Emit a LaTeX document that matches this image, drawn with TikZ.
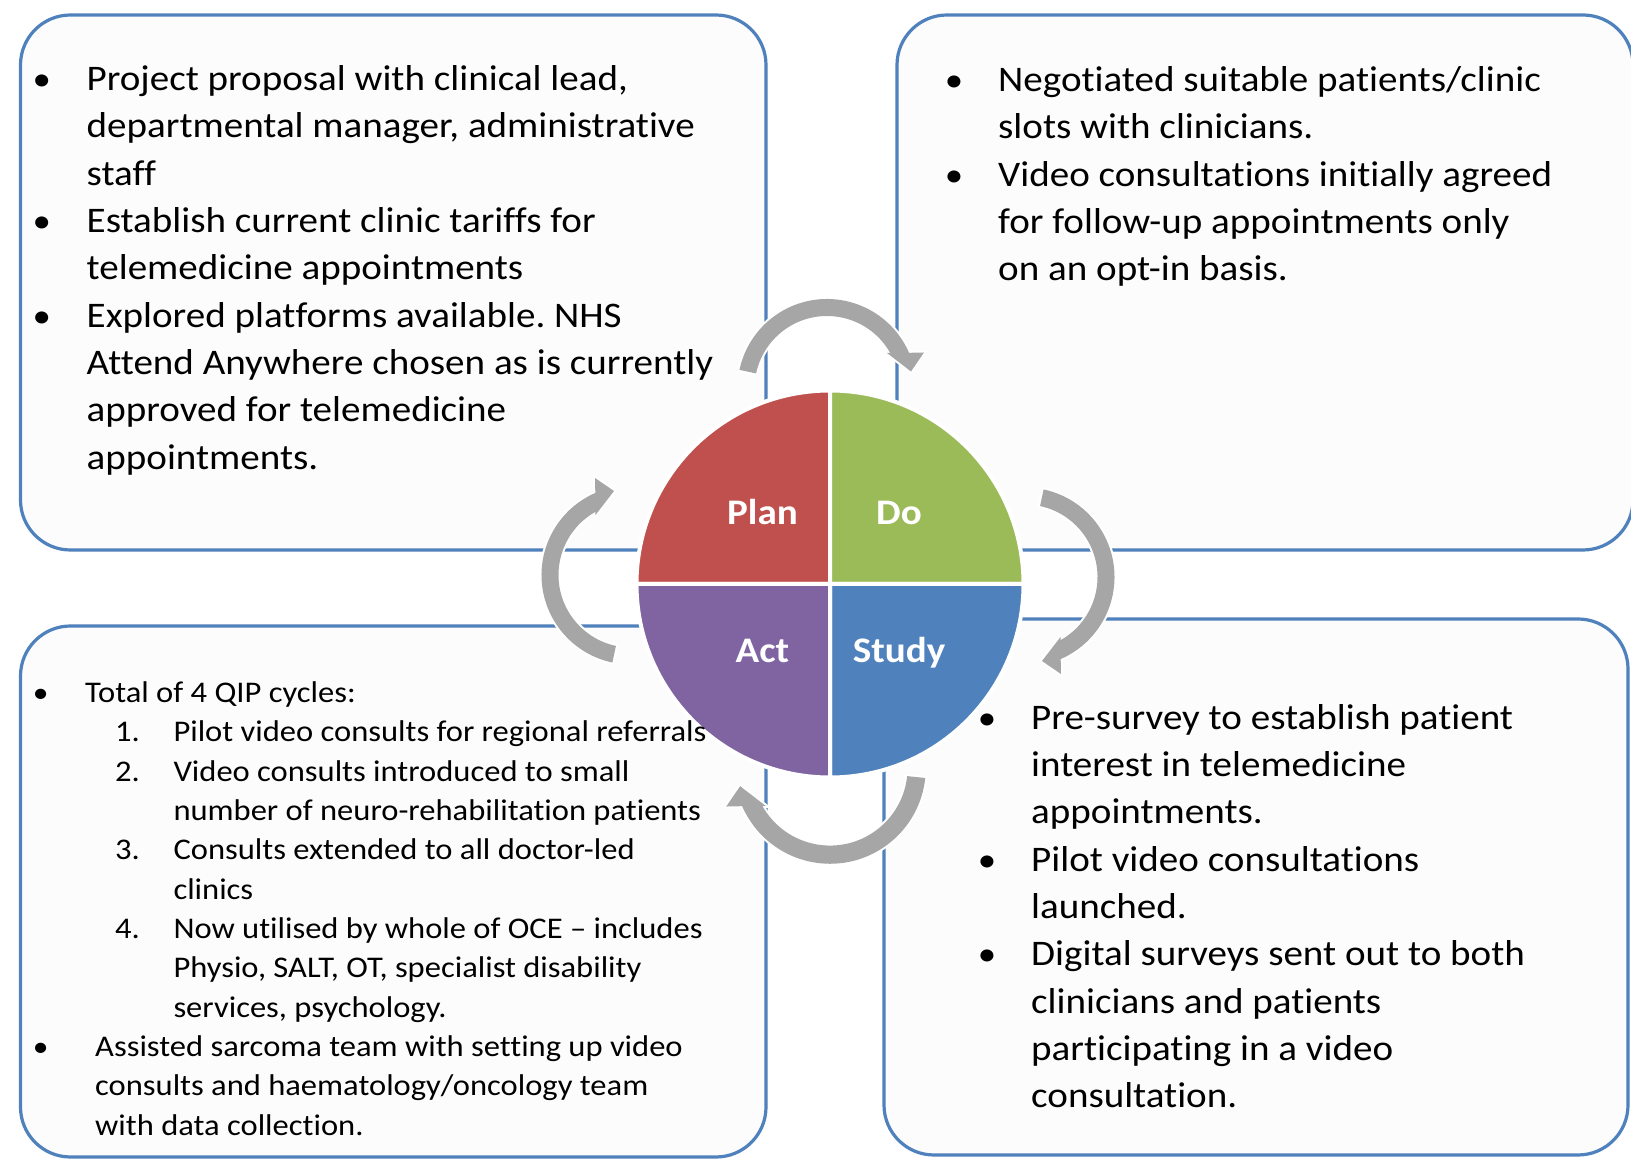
\documentclass[tikz,border=0pt]{standalone}
\usepackage{fontspec}
\setmainfont{Carlito}[FakeStretch=1.085, Ligatures={NoCommon,NoContextual,NoRare}, Contextuals=NoAlternate]
\frenchspacing
\definecolor{boxblue}{RGB}{79,129,189}
\definecolor{boxfill}{RGB}{252,252,252}
\definecolor{planred}{RGB}{192,80,77}
\definecolor{dogreen}{RGB}{155,187,89}
\definecolor{studyblue}{RGB}{79,129,189}
\definecolor{actpurple}{RGB}{128,100,162}
\definecolor{arrowgray}{RGB}{166,166,166}
\begin{document}
\begin{tikzpicture}[x=1pt,y=1pt,
  box/.style={draw=boxblue, line width=3.2pt, fill=boxfill, rounded corners=50pt},
  sector/.style={draw=white, line width=4pt, line join=miter},
  bodytext/.style={inner sep=0pt, anchor=base west, font=\fontsize{36}{47.3}\selectfont},
  smalltext/.style={inner sep=0pt, anchor=base west, font=\fontsize{30}{39.3}\selectfont},
  bulletmark/.style={inner sep=0pt, anchor=base, font=\fontsize{34}{40}\selectfont},
  smallbullet/.style={inner sep=0pt, anchor=base, font=\fontsize{29}{36}\selectfont},
  quadlabel/.style={inner sep=0pt, anchor=base, text=white, font=\bfseries\fontsize{36}{40}\selectfont},
  cycarrow/.pic={
    \fill[arrowgray, preaction={draw=white, line width=4pt}]
      (#1:89.5) arc[start angle=#1, end angle=23.5, radius=89.5]
      -- (97,36) -- (84,17) -- (60,35.5) -- (29.5:72.5)
      arc[start angle=29.5, end angle=#1, radius=72.5] -- cycle;
  }]
% canvas
\fill[white] (0,0) rectangle (1631,1160);
\useasboundingbox (0,0) rectangle (1631,1160);

% the four text panels
\draw[box] (20.5,610) rectangle (766,1145);
\draw[box] (897,610) rectangle (1633,1145);
\draw[box] (20.5,3) rectangle (766,534);
\draw[box] (884,5) rectangle (1628,541);

% PDSA wheel
\fill[sector, fill=planred]   (830,576) -- (830,769.5) arc[start angle=90,  end angle=180, radius=193.5] -- cycle;
\fill[sector, fill=dogreen]   (830,576) -- (1023.5,576) arc[start angle=0, end angle=90,  radius=193.5] -- cycle;
\fill[sector, fill=studyblue] (830,576) -- (830,382.5) arc[start angle=270, end angle=360, radius=193.5] -- cycle;
\fill[sector, fill=actpurple] (830,576) -- (636.5,576) arc[start angle=180, end angle=270, radius=193.5] -- cycle;
\draw[sector] (830,576) -- (830,769.5) (830,576) -- (1023.5,576) (830,576) -- (830,382.5) (830,576) -- (636.5,576);

\node[quadlabel] (plan)  at (762.5,635)   {Plan};
\node[quadlabel] (do)    at (899,635)     {Do};
\node[quadlabel] (act)   at (762.5,497.3) {Act};
\node[quadlabel] (study) at (899,497.3)   {Study};

% cycle arrows round the wheel
\pic at (827,771.5) {cycarrow=168};
\pic[rotate=-90] at (1025,583) {cycarrow=168};
\pic[rotate=180, scale=1.07] at (830,392) {cycarrow=174};
\pic[rotate=90] at (631,585) {cycarrow=168};

% Plan panel
\foreach \txt [count=\i] in {
  {Project proposal with clinical lead,},
  {departmental manager, administrative},
  {staff},
  {Establish current clinic tariffs for},
  {telemedicine appointments},
  {Explored platforms available. NHS},
  {Attend Anywhere chosen as is currently},
  {approved for telemedicine},
  {appointments.}}
  \node[bodytext] (pl\i) at (86.5,{1116.6-47.3*\i}) {\txt};
\foreach \k in {1,4,6}
  \node[bulletmark] (plb\k) at (41.7,{1116.6-47.3*\k}) {\textbullet};

% Do panel
\foreach \txt [count=\i] in {
  {Negotiated suitable patients/clinic},
  {slots with clinicians.},
  {Video consultations initially agreed},
  {for follow-up appointments only},
  {on an opt-in basis.}}
  \node[bodytext] (dl\i) at (998,{1115.8-47.3*\i}) {\txt};
\foreach \k in {1,3}
  \node[bulletmark] (dlb\k) at (954,{1115.8-47.3*\k}) {\textbullet};

% Study panel
\foreach \txt [count=\i] in {
  {Pre-survey to establish patient},
  {interest in telemedicine},
  {appointments.},
  {Pilot video consultations},
  {launched.},
  {Digital surveys sent out to both},
  {clinicians and patients},
  {participating in a video},
  {consultation.}}
  \node[bodytext] (sl\i) at (1031,{478-47.3*\i}) {\txt};
\foreach \k in {1,4,6}
  \node[bulletmark] (slb\k) at (987,{478-47.3*\k}) {\textbullet};

% Act panel
\foreach \xx/\txt [count=\i] in {
  85/{Total of 4 QIP cycles:},
  173.3/{Pilot video consults for regional referrals},
  173.3/{Video consults introduced to small},
  173.3/{number of neuro-rehabilitation patients},
  173.3/{Consults extended to all doctor-led},
  173.3/{clinics},
  173.3/{Now utilised by whole of OCE – includes},
  173.3/{Physio, SALT, OT, specialist disability},
  173.3/{services, psychology.},
  95/{Assisted sarcoma team with setting up video},
  95/{consults and haematology/oncology team},
  95/{with data collection.}}
  \node[smalltext] (al\i) at (\xx,{496.6-39.3*\i}) {\txt};
\foreach \k in {1,10}
  \node[smallbullet] (alb\k) at (40.7,{496.6-39.3*\k}) {\textbullet};
\foreach \k/\n in {2/1,3/2,5/3,7/4}
  \node[smalltext] (aln\n) at (115,{496.6-39.3*\k}) {\n.};
\end{tikzpicture}
\end{document}
